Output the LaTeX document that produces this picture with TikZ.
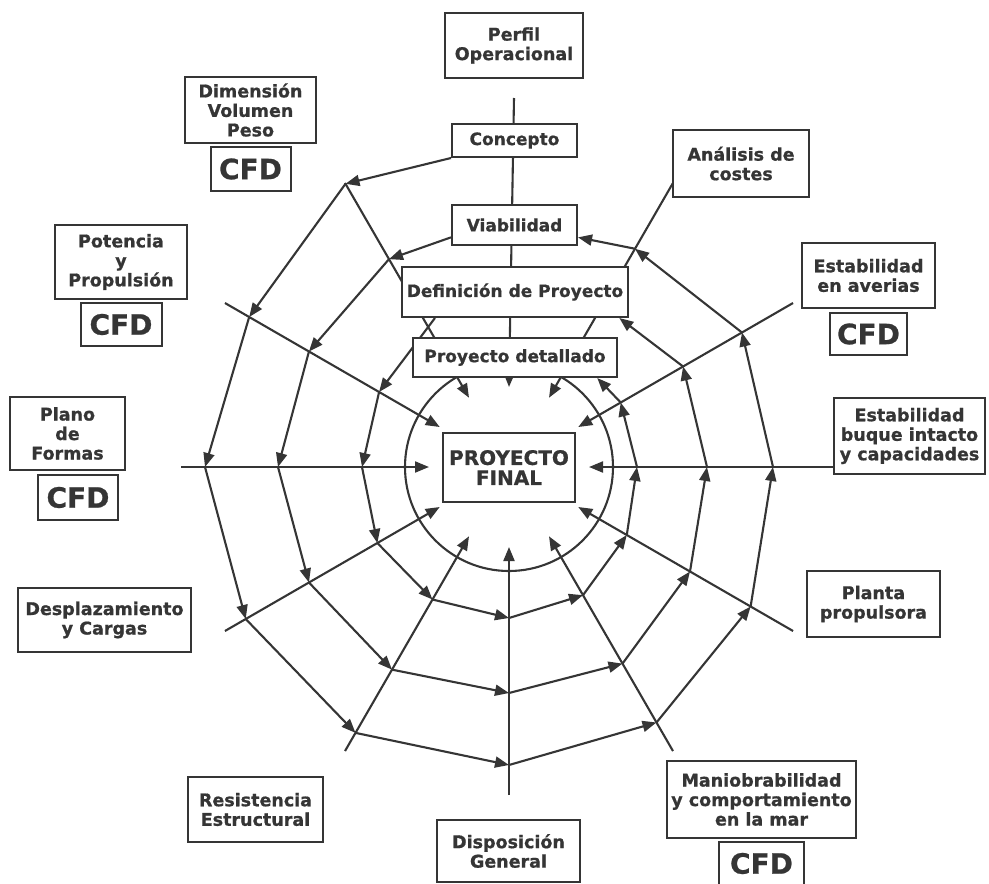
\documentclass[tikz,border=0pt]{standalone}
\usepackage{fontspec}
\setmainfont{DejaVu Sans}[BoldFeatures={FakeBold=0.8}]
\usepackage{tikz}
\usetikzlibrary{positioning,arrows.meta,backgrounds}
\definecolor{spInk}{HTML}{353535}
\tikzset{
  sp-box/.style={
    draw=spInk, line width=2pt, fill=white, text=spInk,
    font=\fontsize{17.5}{19.5}\selectfont\bfseries, align=center,
    inner sep=2pt
  },
  sp-stage/.style={sp-box, font=\fontsize{17}{19}\selectfont\bfseries},
  sp-final/.style={sp-box, font=\fontsize{20}{20}\selectfont\bfseries},
  sp-cfd/.style={sp-box, font=\fontsize{28}{28}\selectfont\bfseries,
    minimum width=80pt, minimum height=44pt},
  sp-flow/.style={-{Triangle[length=14pt, width=11pt]}, line width=2.1pt,
    draw=spInk},
  sp-line/.style={line width=2.1pt, draw=spInk}
}

\begin{document}
\begin{tikzpicture}[x=1pt, y=1pt, node distance=2pt]
\useasboundingbox (0,0) rectangle (989,-884);
\coordinate (C) at (509,-467);

% Centre
\node[sp-final, minimum width=132pt, minimum height=69pt] (final)
  at (509,-467.5) {PROYECTO\\FINAL};

% Stages on the vertical axis
\node[sp-box, minimum width=138pt, minimum height=65pt] (perfil)
  at (514,-45.5) {Perfil\\Operacional};
\node[sp-stage, minimum width=125pt, minimum height=33pt] (conc)
  at (514.5,-140.5) {Concepto};
\node[sp-stage, minimum width=125pt, minimum height=40pt] (viab)
  at (514.5,-225) {Viabilidad};
\node[sp-stage, minimum width=226pt, minimum height=50pt] (def)
  at (515,-292) {Definición de Proyecto};
\node[sp-stage, minimum width=204pt, minimum height=39pt] (det)
  at (515,-357.5) {Proyecto detallado};

% Outer labels
\node[sp-box, minimum width=131pt, minimum height=66pt] (dim)
  at (250.5,-110) {Dimensión\\Volumen\\Peso};
\node[sp-cfd, below=of dim] (dimcfd) {CFD};

\node[sp-box, minimum width=132pt, minimum height=74pt] (pot)
  at (121,-262) {Potencia\\y\\Propulsión};
\node[sp-cfd, minimum width=81pt, minimum height=43pt, below=of pot]
  (potcfd) {CFD};

\node[sp-box, minimum width=115pt, minimum height=73pt] (plano)
  at (67.5,-433.5) {Plano\\de\\Formas};
\node[sp-cfd, below=3pt of plano.south east, anchor=north east,
  xshift=-7pt, minimum height=45pt] (planocfd) {CFD};

\node[sp-box, minimum width=173pt, minimum height=64pt] (despl)
  at (104.5,-620) {Desplazamiento\\y Cargas};
\node[sp-box, minimum width=135pt, minimum height=65pt] (resist)
  at (255.5,-809.5) {Resistencia\\Estructural};
\node[sp-box, minimum width=143pt, minimum height=62pt] (disp)
  at (508.5,-851) {Disposición\\General};
\node[sp-box, minimum width=189pt, minimum height=77pt] (mani)
  at (761.5,-799.5) {Maniobrabilidad\\y comportamiento\\en la mar};
\node[sp-cfd, minimum width=85pt, minimum height=43pt, below=of mani]
  (manicfd) {CFD};
\node[sp-box, minimum width=133pt, minimum height=66pt] (planta)
  at (873.5,-604) {Planta\\propulsora};
\node[sp-box, minimum width=151pt, minimum height=76pt] (intacto)
  at (909.5,-436) {Estabilidad\\buque intacto\\y capacidades};
\node[sp-box, minimum width=133pt, minimum height=65pt] (averias)
  at (868.5,-275.5) {Estabilidad\\en averias};
\node[sp-cfd, minimum width=77pt, minimum height=42pt, below=3pt of averias]
  (averiascfd) {CFD};
\node[sp-box, minimum width=136pt, minimum height=67pt] (costes)
  at (741,-163.5) {Análisis de\\costes};

% Spiral corners
\foreach \a/\r in {120/327,150/300,180/304,210/304,240/307,270/298,
  300/295,330/279,360/264,390/269,420/252}
  \path (C) ++(\a:\r) coordinate (ra\a);
\foreach \a/\r in {120/240,150/231,180/231,210/231,240/234,270/226,
  300/227,330/209,360/198,390/201}
  \path (C) ++(\a:\r) coordinate (rb\a);
\foreach \a/\r in {150/150,180/147,210/152,240/153,270/151,300/148,
  330/136,360/128,390/129}
  \path (C) ++(\a:\r) coordinate (rc\a);

% Spoke ends
\foreach \a in {0,30,60,120,150,180,210,240,270,300,330}
  \path (C) ++(\a:328) coordinate (so\a) (C) ++(\a:80) coordinate (si\a);
\coordinate (so90) at ([yshift=-19pt]perfil.south);
\path (C) ++(90:80) coordinate (si90);

\begin{pgfonlayer}{background}
% Spokes
\foreach \a in {0,30,...,330}
  \draw[sp-flow] (so\a) -- (si\a);
\draw[sp-line] (C) circle (104);

% Spiral
\draw[sp-flow] (conc.south west) -- (ra120);
\foreach \u/\v in {120/150,150/180,180/210,210/240,240/270,270/300,
  300/330,330/360,360/390,390/420}
  \draw[sp-flow] (ra\u) -- (ra\v);
\draw[sp-flow] (ra420) -- (viab.-11);

\draw[sp-flow] (viab.191) -- (rb120);
\foreach \u/\v in {120/150,150/180,180/210,210/240,240/270,270/300,
  300/330,330/360,360/390}
  \draw[sp-flow] (rb\u) -- (rb\v);
\draw[sp-flow] (rb390) -- (def.-14);

\draw[sp-flow] (def.198) -- (rc150);
\foreach \u/\v in {150/180,180/210,210/240,240/270,270/300,
  300/330,330/360,360/390}
  \draw[sp-flow] (rc\u) -- (rc\v);
\draw[sp-flow] (rc390) -- (det.-14);
\end{pgfonlayer}
\end{tikzpicture}
\end{document}
